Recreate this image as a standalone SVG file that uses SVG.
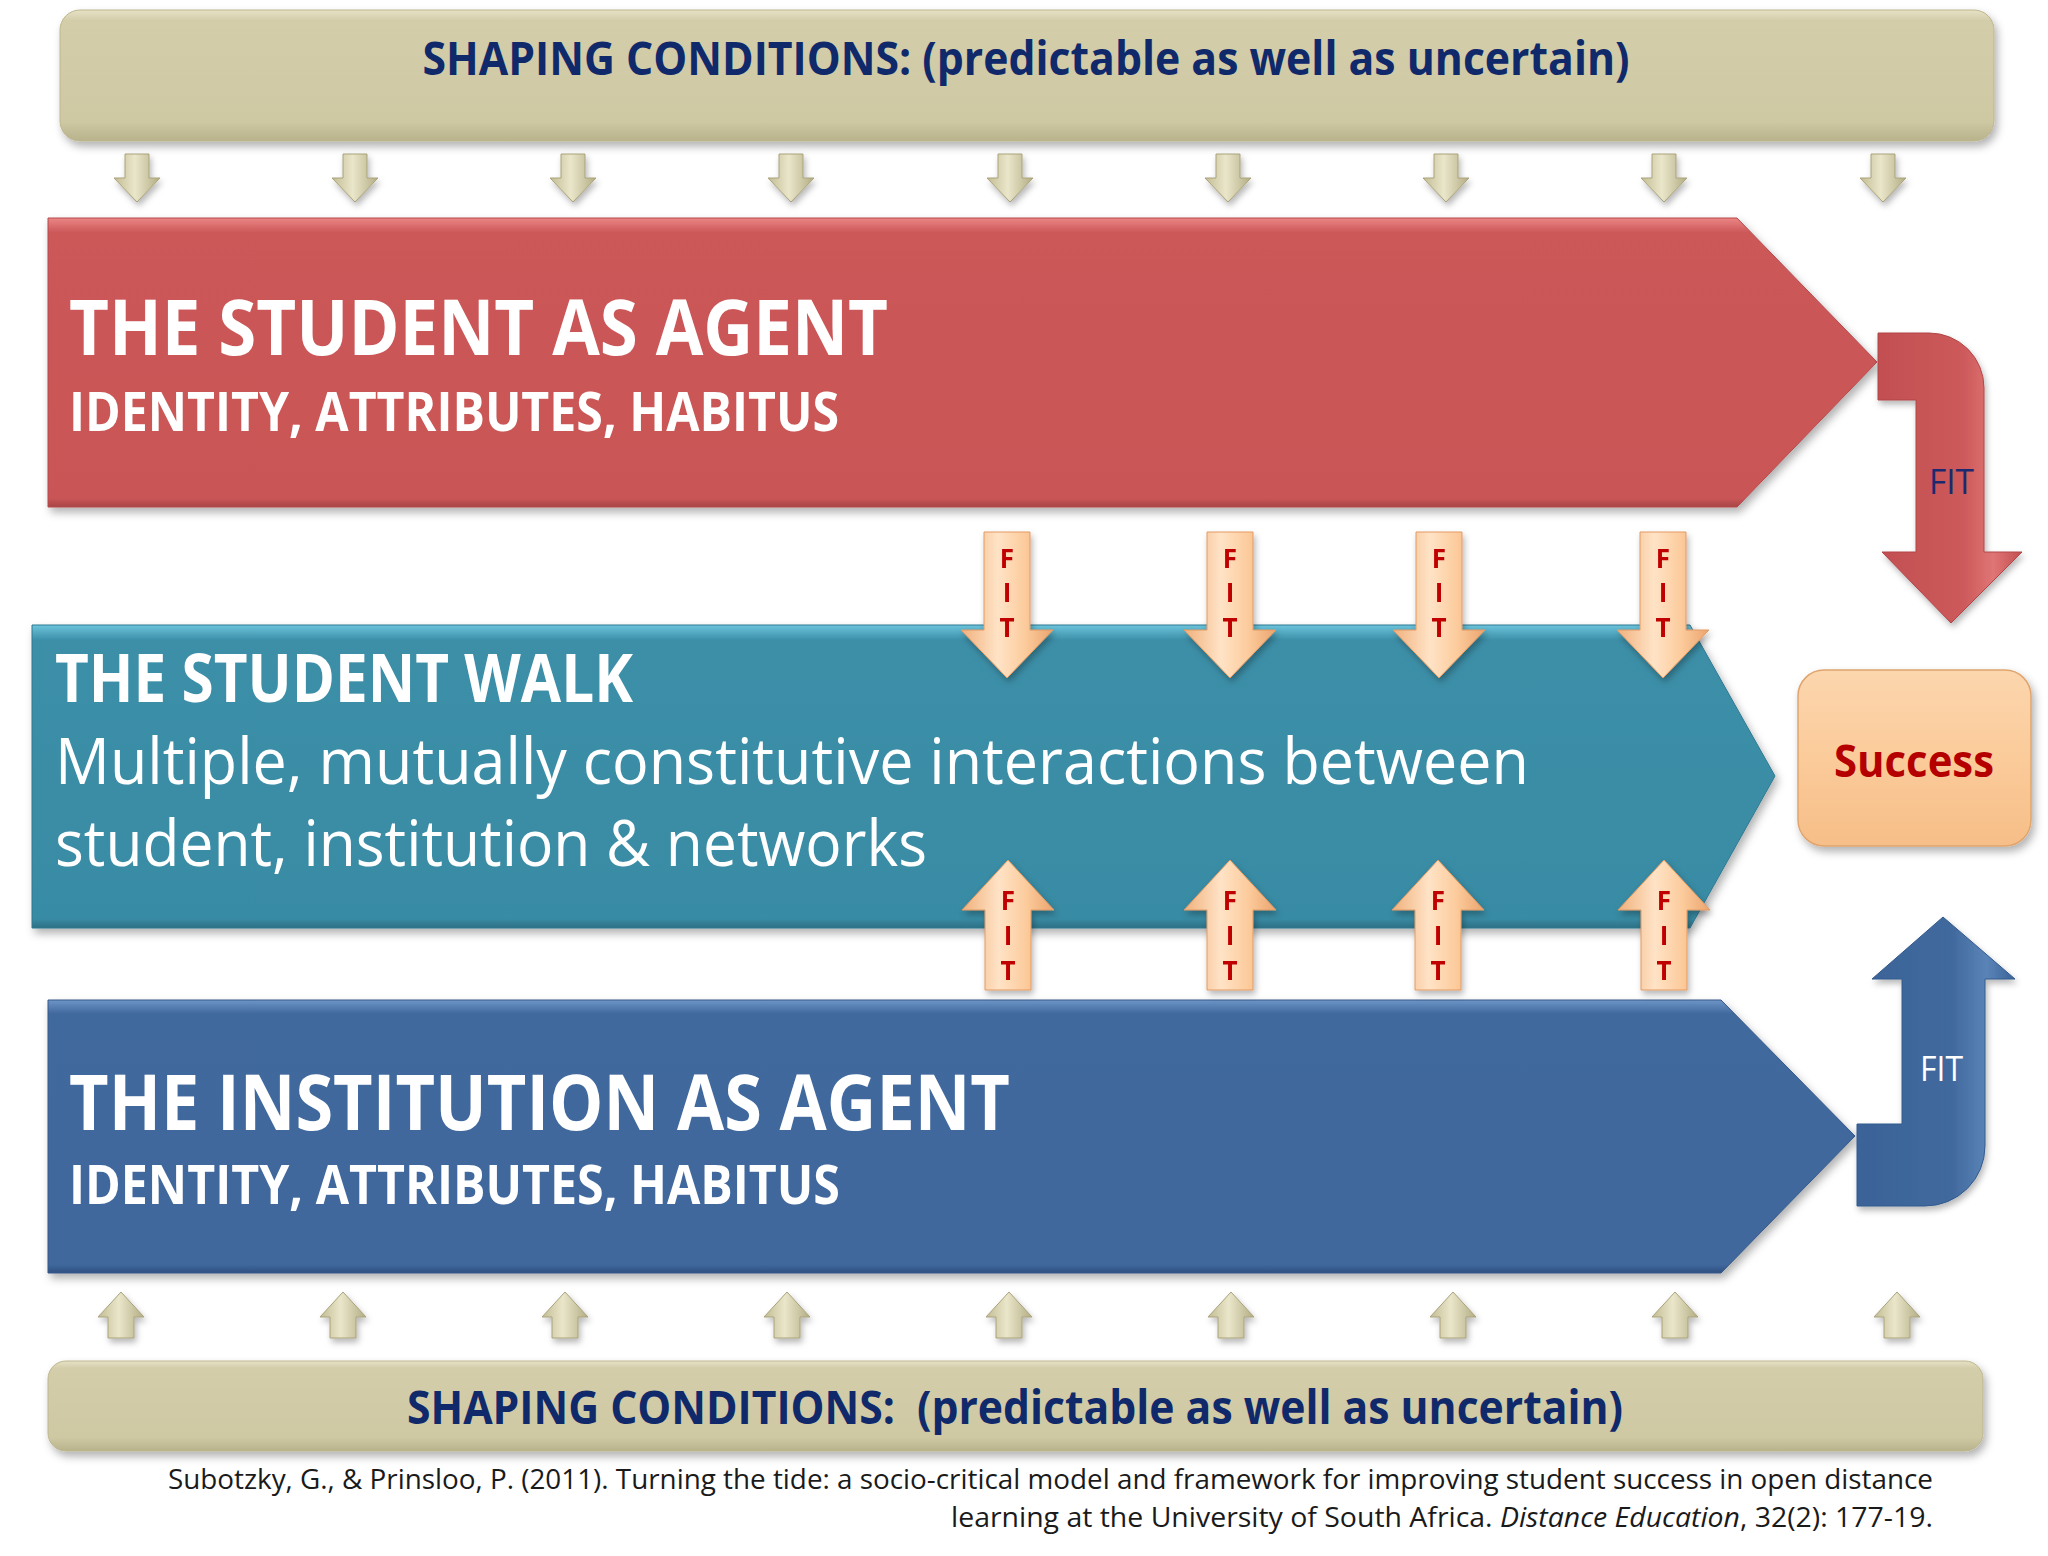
<svg xmlns="http://www.w3.org/2000/svg" xmlns:xlink="http://www.w3.org/1999/xlink" width="2048" height="1556" viewBox="0 0 2048 1556">
<style>
  text { font-family: "Open Sans", "Noto Sans", "Liberation Sans", sans-serif; }
  .hdr { font-weight: 700; fill: #10296B; font-size: 46px; }
  .ttl { font-weight: 700; fill: #FFFFFF; }
  .body { font-weight: 400; fill: #FFFFFF; font-size: 64px; }
  .fit { font-weight: 700; fill: #C00000; font-size: 26px; text-anchor: middle; }
  .cite { font-weight: 400; fill: #1A1A1A; font-size: 28px; text-anchor: end; }
  .kh { fill: url(#gKhakiArrow); stroke: #A9A27A; stroke-width: 1; }
  .pe { fill: url(#gPeach); stroke: #E39A62; stroke-width: 1; }
</style>
<defs>
  <filter id="sh" x="-5%" y="-10%" width="115%" height="130%">
    <feDropShadow dx="3" dy="5" stdDeviation="4" flood-color="#000" flood-opacity="0.3"/>
  </filter>
  <filter id="shs" x="-30%" y="-20%" width="160%" height="150%">
    <feDropShadow dx="2" dy="4" stdDeviation="3" flood-color="#000" flood-opacity="0.28"/>
  </filter>
  <linearGradient id="gBar" x1="0" y1="0" x2="0" y2="1">
    <stop offset="0" stop-color="#E7E2C6"/>
    <stop offset="0.08" stop-color="#D3CDAA"/>
    <stop offset="0.85" stop-color="#CEC8A3"/>
    <stop offset="1" stop-color="#B9B38C"/>
  </linearGradient>
  <linearGradient id="gRed" x1="0" y1="0" x2="0" y2="1">
    <stop offset="0" stop-color="#EC8585"/>
    <stop offset="0.05" stop-color="#CC5859"/>
    <stop offset="0.97" stop-color="#C95556"/>
    <stop offset="1" stop-color="#A84446"/>
  </linearGradient>
  <linearGradient id="gTeal" x1="0" y1="0" x2="0" y2="1">
    <stop offset="0" stop-color="#6CC4DC"/>
    <stop offset="0.05" stop-color="#3C8FA8"/>
    <stop offset="0.97" stop-color="#398BA4"/>
    <stop offset="1" stop-color="#2D6F84"/>
  </linearGradient>
  <linearGradient id="gBlue" x1="0" y1="0" x2="0" y2="1">
    <stop offset="0" stop-color="#6D95C6"/>
    <stop offset="0.05" stop-color="#41699E"/>
    <stop offset="0.97" stop-color="#3F679C"/>
    <stop offset="1" stop-color="#2F5080"/>
  </linearGradient>
  <linearGradient id="gRedArrow" x1="0" y1="0" x2="1" y2="0">
    <stop offset="0" stop-color="#C24F51"/>
    <stop offset="0.6" stop-color="#CD5A5B"/>
    <stop offset="0.8" stop-color="#E07575"/>
    <stop offset="1" stop-color="#C24F51"/>
  </linearGradient>
  <linearGradient id="gBlueArrow" x1="0" y1="0" x2="1" y2="0">
    <stop offset="0" stop-color="#3A6398"/>
    <stop offset="0.6" stop-color="#41699E"/>
    <stop offset="0.82" stop-color="#5A84B8"/>
    <stop offset="1" stop-color="#3A6398"/>
  </linearGradient>
  <linearGradient id="gKhakiArrow" x1="0" y1="0" x2="1" y2="0">
    <stop offset="0" stop-color="#C2BC93"/>
    <stop offset="0.45" stop-color="#EAE6CA"/>
    <stop offset="1" stop-color="#B3AD84"/>
  </linearGradient>
  <linearGradient id="gPeach" x1="0" y1="0" x2="1" y2="0">
    <stop offset="0" stop-color="#F0B07C"/>
    <stop offset="0.4" stop-color="#FFE3C6"/>
    <stop offset="0.7" stop-color="#FCCB9C"/>
    <stop offset="1" stop-color="#EBA46E"/>
  </linearGradient>
  <linearGradient id="gSuccess" x1="0" y1="0" x2="0" y2="1">
    <stop offset="0" stop-color="#FCD6AE"/>
    <stop offset="0.5" stop-color="#FBCB9A"/>
    <stop offset="1" stop-color="#F6BE88"/>
  </linearGradient>
  <path id="kDown" d="M-12,0 H12 V24 H23 L0,48 L-23,24 H-12 Z"/>
  <path id="kUp" d="M0,0 L23,25 H13 V46 H-13 V25 H-23 Z"/>
  <path id="pDown" d="M-23,0 H23 V98 H46 L0,146 L-46,98 H-23 Z"/>
  <path id="pUp" d="M0,0 L46,50 H23 V130 H-23 V50 H-46 Z"/>
</defs>

<rect width="2048" height="1556" fill="#FFFFFF"/>

<!-- Top shaping conditions -->
<g id="shaping-top">
  <rect x="60" y="10" width="1934" height="131" rx="20" ry="20" fill="url(#gBar)" stroke="#BDB68F" stroke-width="1" filter="url(#sh)"/>
  <text class="hdr" x="1026" y="75" text-anchor="middle" textLength="1207" lengthAdjust="spacingAndGlyphs">SHAPING CONDITIONS: (predictable as well as uncertain)</text>
</g>

<!-- Student as agent -->
<g id="student-agent">
  <path d="M48,218 H1737 L1877,362 L1737,507 H48 Z" fill="url(#gRed)" stroke="#B54A4C" stroke-width="1" filter="url(#sh)"/>
  <text class="ttl" x="69" y="355" font-size="77" textLength="819" lengthAdjust="spacingAndGlyphs">THE STUDENT AS AGENT</text>
  <text class="ttl" x="69" y="431" font-size="54" textLength="770" lengthAdjust="spacingAndGlyphs">IDENTITY, ATTRIBUTES, HABITUS</text>
</g>

<!-- Student walk -->
<g id="student-walk">
  <path d="M32,625 H1690 L1775,776 L1690,928 H32 Z" fill="url(#gTeal)" stroke="#2F7890" stroke-width="1" filter="url(#sh)"/>
  <text class="ttl" x="55" y="702" font-size="66" textLength="578" lengthAdjust="spacingAndGlyphs">THE STUDENT WALK</text>
  <text class="body" x="55" y="784" textLength="1474" lengthAdjust="spacingAndGlyphs">Multiple, mutually constitutive interactions between</text>
  <text class="body" x="55" y="866" textLength="872" lengthAdjust="spacingAndGlyphs">student, institution &amp; networks</text>
</g>

<!-- Institution as agent -->
<g id="institution-agent">
  <path d="M48,1000 H1721 L1855,1136 L1721,1273 H48 Z" fill="url(#gBlue)" stroke="#36598A" stroke-width="1" filter="url(#sh)"/>
  <text class="ttl" x="69" y="1130" font-size="77" textLength="941" lengthAdjust="spacingAndGlyphs">THE INSTITUTION AS AGENT</text>
  <text class="ttl" x="69" y="1204" font-size="54" textLength="771" lengthAdjust="spacingAndGlyphs">IDENTITY, ATTRIBUTES, HABITUS</text>
</g>

<!-- Success -->
<g id="success">
  <rect x="1798" y="670" width="233" height="176" rx="26" ry="26" fill="url(#gSuccess)" stroke="#E0A56E" stroke-width="1.5" filter="url(#sh)"/>
  <text x="1914" y="777" text-anchor="middle" font-size="44" font-weight="700" fill="#B50000" textLength="160" lengthAdjust="spacingAndGlyphs">Success</text>
</g>

<!-- Bottom shaping conditions -->
<g id="shaping-bottom">
  <rect x="48" y="1361" width="1935" height="90" rx="18" ry="18" fill="url(#gBar)" stroke="#BDB68F" stroke-width="1" filter="url(#sh)"/>
  <text class="hdr" x="1015" y="1424" text-anchor="middle" font-size="47" xml:space="preserve" textLength="1216" lengthAdjust="spacingAndGlyphs">SHAPING CONDITIONS:  (predictable as well as uncertain)</text>
</g>

<!-- Connectors -->
<g id="connectors">
  <g id="shaping-down-arrows" filter="url(#shs)">
    <use xlink:href="#kDown" class="kh" x="137" y="154"/>
    <use xlink:href="#kDown" class="kh" x="355" y="154"/>
    <use xlink:href="#kDown" class="kh" x="573" y="154"/>
    <use xlink:href="#kDown" class="kh" x="791" y="154"/>
    <use xlink:href="#kDown" class="kh" x="1010" y="154"/>
    <use xlink:href="#kDown" class="kh" x="1228" y="154"/>
    <use xlink:href="#kDown" class="kh" x="1446" y="154"/>
    <use xlink:href="#kDown" class="kh" x="1664" y="154"/>
    <use xlink:href="#kDown" class="kh" x="1883" y="154"/>
  </g>
  <g id="shaping-up-arrows" filter="url(#shs)">
    <use xlink:href="#kUp" class="kh" x="121" y="1292"/>
    <use xlink:href="#kUp" class="kh" x="343" y="1292"/>
    <use xlink:href="#kUp" class="kh" x="565" y="1292"/>
    <use xlink:href="#kUp" class="kh" x="787" y="1292"/>
    <use xlink:href="#kUp" class="kh" x="1009" y="1292"/>
    <use xlink:href="#kUp" class="kh" x="1231" y="1292"/>
    <use xlink:href="#kUp" class="kh" x="1453" y="1292"/>
    <use xlink:href="#kUp" class="kh" x="1675" y="1292"/>
    <use xlink:href="#kUp" class="kh" x="1897" y="1292"/>
  </g>

  <g id="fit-down-arrows">
    <g filter="url(#shs)">
      <use xlink:href="#pDown" class="pe" x="1007" y="532"/>
      <use xlink:href="#pDown" class="pe" x="1230" y="532"/>
      <use xlink:href="#pDown" class="pe" x="1439" y="532"/>
      <use xlink:href="#pDown" class="pe" x="1663" y="532"/>
    </g>
    <text class="fit" x="1007" y="568">F</text><text class="fit" x="1007" y="602">I</text><text class="fit" x="1007" y="637">T</text>
    <text class="fit" x="1230" y="568">F</text><text class="fit" x="1230" y="602">I</text><text class="fit" x="1230" y="637">T</text>
    <text class="fit" x="1439" y="568">F</text><text class="fit" x="1439" y="602">I</text><text class="fit" x="1439" y="637">T</text>
    <text class="fit" x="1663" y="568">F</text><text class="fit" x="1663" y="602">I</text><text class="fit" x="1663" y="637">T</text>
  </g>

  <g id="fit-up-arrows">
    <g filter="url(#shs)">
      <use xlink:href="#pUp" class="pe" x="1008" y="860"/>
      <use xlink:href="#pUp" class="pe" x="1230" y="860"/>
      <use xlink:href="#pUp" class="pe" x="1438" y="860"/>
      <use xlink:href="#pUp" class="pe" x="1664" y="860"/>
    </g>
    <text class="fit" x="1008" y="910">F</text><text class="fit" x="1008" y="945">I</text><text class="fit" x="1008" y="980">T</text>
    <text class="fit" x="1230" y="910">F</text><text class="fit" x="1230" y="945">I</text><text class="fit" x="1230" y="980">T</text>
    <text class="fit" x="1438" y="910">F</text><text class="fit" x="1438" y="945">I</text><text class="fit" x="1438" y="980">T</text>
    <text class="fit" x="1664" y="910">F</text><text class="fit" x="1664" y="945">I</text><text class="fit" x="1664" y="980">T</text>
  </g>

  <g id="fit-student-success">
    <path d="M1878,333 H1929 A55,55 0 0 1 1984,388 V552 H2022 L1951,623 L1882,552 H1916 V400 H1878 Z" fill="url(#gRedArrow)" stroke="#B14648" stroke-width="1" filter="url(#shs)"/>
    <text x="1929" y="494" font-size="34" fill="#1B2A6E" textLength="45" lengthAdjust="spacingAndGlyphs">FIT</text>
  </g>

  <g id="fit-institution-success">
    <path d="M1857,1124 H1902 V979 H1872 L1943,917 L2015,979 H1985 V1146 A60,60 0 0 1 1925,1206 H1857 Z" fill="url(#gBlueArrow)" stroke="#335A8C" stroke-width="1" filter="url(#shs)"/>
    <text x="1920" y="1081" font-size="34" fill="#FFFFFF" textLength="43" lengthAdjust="spacingAndGlyphs">FIT</text>
  </g>
</g>

<!-- Citation -->
<g id="citation">
  <text class="cite" x="1933" y="1489" textLength="1765" lengthAdjust="spacingAndGlyphs">Subotzky, G., &amp; Prinsloo, P. (2011). Turning the tide: a socio-critical model and framework for improving student success in open distance</text>
  <text class="cite" x="1933" y="1527" textLength="982" lengthAdjust="spacingAndGlyphs">learning at the University of South Africa. <tspan font-style="italic">Distance Education</tspan>, 32(2): 177-19.</text>
</g>
</svg>
